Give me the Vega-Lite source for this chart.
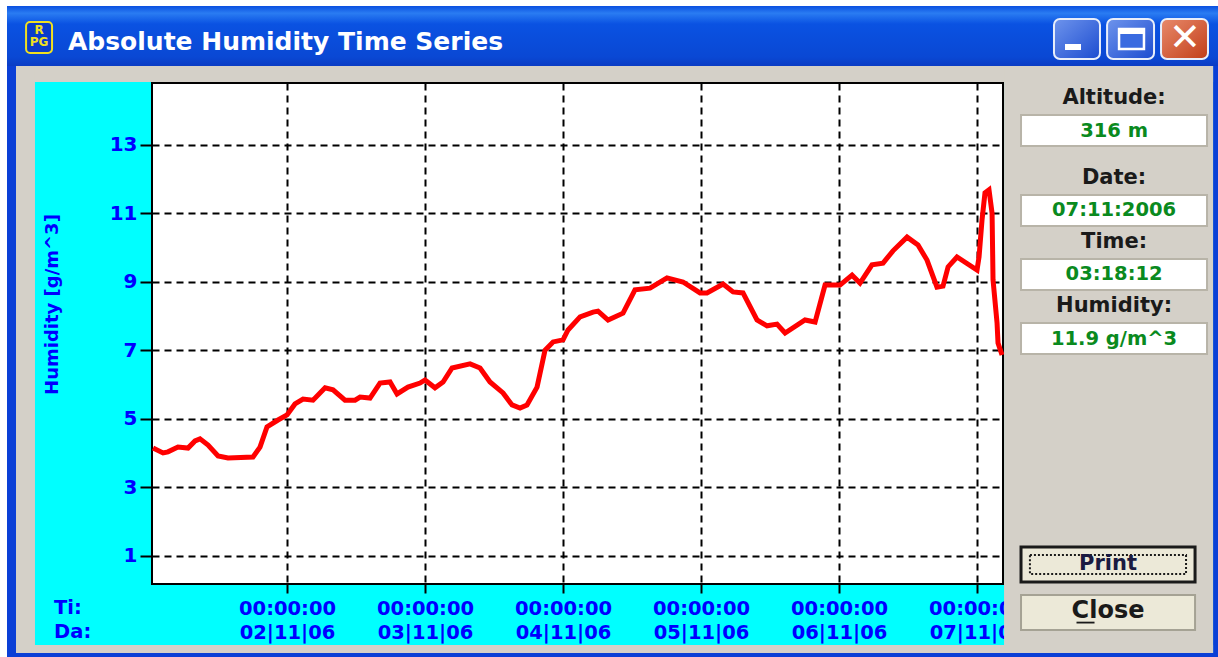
{"$schema":"https://vega.github.io/schema/vega-lite/v6.json","width":851,"height":501,"autosize":{"type":"none"},"padding":{"left":152,"top":83,"right":215,"bottom":73},"background":"#00FFFF","view":{"fill":"#FFFFFF","stroke":"#000000","strokeWidth":2},"title":{"text":"Absolute Humidity Time Series","anchor":"start","frame":"group","dx":-84,"offset":-55,"color":"#FFFFFF","font":"DejaVu Sans","fontWeight":"bold","fontSize":25,"zindex":1},"layer":[{"data":{"values":[{"date":"2006-11-01T00:42","humidity":4.15},{"date":"2006-11-01T02:26","humidity":4.01},{"date":"2006-11-01T03:18","humidity":4.04},{"date":"2006-11-01T05:02","humidity":4.18},{"date":"2006-11-01T06:47","humidity":4.15},{"date":"2006-11-01T08:00","humidity":4.36},{"date":"2006-11-01T08:52","humidity":4.42},{"date":"2006-11-01T10:16","humidity":4.24},{"date":"2006-11-01T12:00","humidity":3.92},{"date":"2006-11-01T13:44","humidity":3.86},{"date":"2006-11-01T18:05","humidity":3.89},{"date":"2006-11-01T19:18","humidity":4.18},{"date":"2006-11-01T20:31","humidity":4.77},{"date":"2006-11-01T22:26","humidity":4.97},{"date":"2006-11-02T00:00","humidity":5.12},{"date":"2006-11-02T01:23","humidity":5.44},{"date":"2006-11-02T02:47","humidity":5.58},{"date":"2006-11-02T04:31","humidity":5.55},{"date":"2006-11-02T06:37","humidity":5.91},{"date":"2006-11-02T08:00","humidity":5.85},{"date":"2006-11-02T10:05","humidity":5.55},{"date":"2006-11-02T11:50","humidity":5.55},{"date":"2006-11-02T12:42","humidity":5.64},{"date":"2006-11-02T14:26","humidity":5.61},{"date":"2006-11-02T16:10","humidity":6.05},{"date":"2006-11-02T17:55","humidity":6.08},{"date":"2006-11-02T19:08","humidity":5.73},{"date":"2006-11-02T21:02","humidity":5.93},{"date":"2006-11-02T23:08","humidity":6.05},{"date":"2006-11-03T00:00","humidity":6.14},{"date":"2006-11-03T01:44","humidity":5.91},{"date":"2006-11-03T03:08","humidity":6.08},{"date":"2006-11-03T04:42","humidity":6.49},{"date":"2006-11-03T07:50","humidity":6.61},{"date":"2006-11-03T09:34","humidity":6.49},{"date":"2006-11-03T11:18","humidity":6.08},{"date":"2006-11-03T13:34","humidity":5.76},{"date":"2006-11-03T15:08","humidity":5.41},{"date":"2006-11-03T16:31","humidity":5.32},{"date":"2006-11-03T17:44","humidity":5.41},{"date":"2006-11-03T19:29","humidity":5.93},{"date":"2006-11-03T20:52","humidity":7.01},{"date":"2006-11-03T22:16","humidity":7.25},{"date":"2006-11-04T00:00","humidity":7.31},{"date":"2006-11-04T00:52","humidity":7.6},{"date":"2006-11-04T02:58","humidity":7.98},{"date":"2006-11-04T05:13","humidity":8.12},{"date":"2006-11-04T06:05","humidity":8.15},{"date":"2006-11-04T07:50","humidity":7.89},{"date":"2006-11-04T10:26","humidity":8.09},{"date":"2006-11-04T12:31","humidity":8.77},{"date":"2006-11-04T15:08","humidity":8.82},{"date":"2006-11-04T18:05","humidity":9.12},{"date":"2006-11-04T20:52","humidity":9.0},{"date":"2006-11-04T23:50","humidity":8.68},{"date":"2006-11-05T01:02","humidity":8.68},{"date":"2006-11-05T03:50","humidity":8.94},{"date":"2006-11-05T05:34","humidity":8.71},{"date":"2006-11-05T07:18","humidity":8.68},{"date":"2006-11-05T09:44","humidity":7.89},{"date":"2006-11-05T11:29","humidity":7.72},{"date":"2006-11-05T13:13","humidity":7.77},{"date":"2006-11-05T14:37","humidity":7.51},{"date":"2006-11-05T18:05","humidity":7.89},{"date":"2006-11-05T19:50","humidity":7.83},{"date":"2006-11-05T21:34","humidity":8.91},{"date":"2006-11-06T00:10","humidity":8.91},{"date":"2006-11-06T02:16","humidity":9.2},{"date":"2006-11-06T03:39","humidity":8.97},{"date":"2006-11-06T05:44","humidity":9.5},{"date":"2006-11-06T07:39","humidity":9.55},{"date":"2006-11-06T09:23","humidity":9.91},{"date":"2006-11-06T11:50","humidity":10.31},{"date":"2006-11-06T13:44","humidity":10.08},{"date":"2006-11-06T15:18","humidity":9.64},{"date":"2006-11-06T17:02","humidity":8.85},{"date":"2006-11-06T18:05","humidity":8.88},{"date":"2006-11-06T18:58","humidity":9.44},{"date":"2006-11-06T20:31","humidity":9.73},{"date":"2006-11-07T00:00","humidity":9.35},{"date":"2006-11-07T00:21","humidity":9.73},{"date":"2006-11-07T00:52","humidity":10.81},{"date":"2006-11-07T01:23","humidity":11.6},{"date":"2006-11-07T02:05","humidity":11.69},{"date":"2006-11-07T02:37","humidity":11.01},{"date":"2006-11-07T02:47","humidity":9.06},{"date":"2006-11-07T03:29","humidity":7.8},{"date":"2006-11-07T03:39","humidity":7.22},{"date":"2006-11-07T04:21","humidity":6.87}]},"mark":{"type":"line","color":"#FF0000","strokeWidth":5,"interpolate":"linear"},"encoding":{"x":{"field":"date","type":"temporal","scale":{"domain":[{"year":2006,"month":11,"date":1,"hours":0,"minutes":31},{"year":2006,"month":11,"date":7,"hours":4,"minutes":31}]},"axis":{"title":null,"values":[{"year":2006,"month":11,"date":2},{"year":2006,"month":11,"date":3},{"year":2006,"month":11,"date":4},{"year":2006,"month":11,"date":5},{"year":2006,"month":11,"date":6},{"year":2006,"month":11,"date":7}],"labelExpr":"[timeFormat(datum.value,'%H:%M:%S'),timeFormat(datum.value,'%d|%m|%y')]","labelFont":"DejaVu Sans","labelFontWeight":"bold","labelFontSize":19.5,"labelColor":"#0000FF","labelLineHeight":24,"labelBaseline":"top","labelAngle":0,"labelOverlap":false,"labelBound":false,"labelFlush":false,"labelPadding":6,"tickColor":"#000000","tickWidth":2,"tickSize":9,"domain":false,"grid":true,"gridColor":"#000000","gridWidth":2,"gridDash":[7,5],"gridOpacity":1}},"y":{"field":"humidity","type":"quantitative","scale":{"domain":[0.182,14.81],"nice":false,"zero":false},"axis":{"title":"Humidity [g/m^3]","titleX":-100,"titleY":221,"titleAngle":-90,"titleAlign":"center","titleBaseline":"middle","titleColor":"#0000FF","titleFont":"DejaVu Sans","titleFontWeight":"bold","titleFontSize":18,"values":[1,3,5,7,9,11,13],"labelFont":"DejaVu Sans","labelFontWeight":"bold","labelFontSize":20,"labelColor":"#0000FF","labelPadding":3,"tickColor":"#000000","tickWidth":2,"tickSize":12,"domain":false,"grid":true,"gridColor":"#000000","gridWidth":2,"gridDash":[7,5],"gridOpacity":1}}}},
{"data":{"values":[{}]},"mark":{"type":"rect","fill":"#FFFFFF"},"encoding":{"x":{"datum":{"year":2006,"month":10,"date":30,"hours":22,"minutes":5},"type":"temporal"},"x2":{"datum":{"year":2006,"month":11,"date":8,"hours":17,"minutes":55}},"y":{"datum":17.234,"type":"quantitative"},"y2":{"datum":17.058}}},
{"data":{"values":[{}]},"mark":{"type":"rect","fill":"#FFFFFF"},"encoding":{"x":{"datum":{"year":2006,"month":10,"date":30,"hours":22,"minutes":5},"type":"temporal"},"x2":{"datum":{"year":2006,"month":10,"date":30,"hours":23,"minutes":18}},"y":{"datum":17.234,"type":"quantitative"},"y2":{"datum":-1.949}}},
{"data":{"values":[{}]},"mark":{"type":"rect","fill":"#0A3FD6"},"encoding":{"x":{"datum":{"year":2006,"month":10,"date":30,"hours":23,"minutes":18},"type":"temporal"},"x2":{"datum":{"year":2006,"month":10,"date":31,"hours":0,"minutes":52}},"y":{"datum":17.058,"type":"quantitative"},"y2":{"datum":-1.949}}},
{"data":{"values":[{}]},"mark":{"type":"rect","fill":"#0A3FD6"},"encoding":{"x":{"datum":{"year":2006,"month":11,"date":8,"hours":17,"minutes":3},"type":"temporal"},"x2":{"datum":{"year":2006,"month":11,"date":8,"hours":17,"minutes":55}},"y":{"datum":17.058,"type":"quantitative"},"y2":{"datum":-1.949}}},
{"data":{"values":[{}]},"mark":{"type":"rect","fill":"#0A3FD6"},"encoding":{"x":{"datum":{"year":2006,"month":10,"date":30,"hours":23,"minutes":18},"type":"temporal"},"x2":{"datum":{"year":2006,"month":11,"date":8,"hours":17,"minutes":55}},"y":{"datum":-1.832,"type":"quantitative"},"y2":{"datum":-1.949}}},
{"data":{"values":[{}]},"mark":{"type":"rect","fill":{"gradient":"linear","x1":0,"y1":0,"x2":0,"y2":1,"stops":[{"offset":0,"color":"#0A50E0"},{"offset":0.12,"color":"#2A7CF2"},{"offset":0.3,"color":"#0A52E2"},{"offset":0.85,"color":"#0A48D4"},{"offset":1,"color":"#0A3CC4"}]}},"encoding":{"x":{"datum":{"year":2006,"month":10,"date":30,"hours":23,"minutes":18},"type":"temporal"},"x2":{"datum":{"year":2006,"month":11,"date":8,"hours":17,"minutes":55}},"y":{"datum":17.058,"type":"quantitative"},"y2":{"datum":15.307}}},
{"data":{"values":[{}]},"mark":{"type":"rect","fill":"#D4D0C8"},"encoding":{"x":{"datum":{"year":2006,"month":10,"date":31,"hours":0,"minutes":52},"type":"temporal"},"x2":{"datum":{"year":2006,"month":11,"date":8,"hours":17,"minutes":3}},"y":{"datum":15.307,"type":"quantitative"},"y2":{"datum":14.839}}},
{"data":{"values":[{}]},"mark":{"type":"rect","fill":"#D4D0C8"},"encoding":{"x":{"datum":{"year":2006,"month":10,"date":31,"hours":0,"minutes":52},"type":"temporal"},"x2":{"datum":{"year":2006,"month":10,"date":31,"hours":4,"minutes":10}},"y":{"datum":15.307,"type":"quantitative"},"y2":{"datum":-1.832}}},
{"data":{"values":[{}]},"mark":{"type":"rect","fill":"#D4D0C8"},"encoding":{"x":{"datum":{"year":2006,"month":10,"date":31,"hours":0,"minutes":52},"type":"temporal"},"x2":{"datum":{"year":2006,"month":11,"date":8,"hours":17,"minutes":3}},"y":{"datum":-1.599,"type":"quantitative"},"y2":{"datum":-1.832}}},
{"data":{"values":[{}]},"mark":{"type":"rect","fill":"#D4D0C8"},"encoding":{"x":{"datum":{"year":2006,"month":11,"date":7,"hours":4,"minutes":42},"type":"temporal"},"x2":{"datum":{"year":2006,"month":11,"date":8,"hours":17,"minutes":3}},"y":{"datum":15.307,"type":"quantitative"},"y2":{"datum":-1.832}}},
{"data":{"values":[{}]},"mark":{"type":"rect","fill":"#0A3CCB","stroke":"#F0E020","strokeWidth":2,"cornerRadius":4},"encoding":{"x":{"datum":{"year":2006,"month":10,"date":31,"hours":2,"minutes":37},"type":"temporal"},"x2":{"datum":{"year":2006,"month":10,"date":31,"hours":7,"minutes":8}},"y":{"datum":16.591,"type":"quantitative"},"y2":{"datum":15.686}}},
{"data":{"values":[{"label":"R\nPG"}]},"mark":{"type":"text","color":"#F0E020","font":"DejaVu Sans","fontWeight":"bold","fontSize":12,"lineBreak":"\n","lineHeight":12,"align":"center","baseline":"middle","dy":-6},"encoding":{"x":{"datum":{"year":2006,"month":10,"date":31,"hours":4,"minutes":52},"type":"temporal"},"y":{"datum":16.182,"type":"quantitative"},"text":{"field":"label"}}},
{"data":{"values":[{}]},"mark":{"type":"rect","fill":{"gradient":"linear","x1":0,"y1":0,"x2":1,"y2":1,"stops":[{"offset":0,"color":"#6E94EC"},{"offset":1,"color":"#1C4CD0"}]},"stroke":"#E8EEFA","strokeWidth":2,"cornerRadius":6},"encoding":{"x":{"datum":{"year":2006,"month":11,"date":7,"hours":13,"minutes":23},"type":"temporal"},"x2":{"datum":{"year":2006,"month":11,"date":7,"hours":21,"minutes":23}},"y":{"datum":16.679,"type":"quantitative"},"y2":{"datum":15.511}}},
{"data":{"values":[{}]},"mark":{"type":"rect","fill":{"gradient":"linear","x1":0,"y1":0,"x2":1,"y2":1,"stops":[{"offset":0,"color":"#6E94EC"},{"offset":1,"color":"#1C4CD0"}]},"stroke":"#E8EEFA","strokeWidth":2,"cornerRadius":6},"encoding":{"x":{"datum":{"year":2006,"month":11,"date":7,"hours":22,"minutes":37},"type":"temporal"},"x2":{"datum":{"year":2006,"month":11,"date":8,"hours":6,"minutes":47}},"y":{"datum":16.679,"type":"quantitative"},"y2":{"datum":15.511}}},
{"data":{"values":[{}]},"mark":{"type":"rect","fill":{"gradient":"linear","x1":0,"y1":0,"x2":1,"y2":1,"stops":[{"offset":0,"color":"#E88A6C"},{"offset":1,"color":"#C23E18"}]},"stroke":"#E8EEFA","strokeWidth":2,"cornerRadius":6},"encoding":{"x":{"datum":{"year":2006,"month":11,"date":8,"hours":8,"minutes":0},"type":"temporal"},"x2":{"datum":{"year":2006,"month":11,"date":8,"hours":16,"minutes":10}},"y":{"datum":16.679,"type":"quantitative"},"y2":{"datum":15.511}}},
{"data":{"values":[{}]},"mark":{"type":"rect","fill":"#FFFFFF"},"encoding":{"x":{"datum":{"year":2006,"month":11,"date":7,"hours":15,"minutes":18},"type":"temporal"},"x2":{"datum":{"year":2006,"month":11,"date":7,"hours":18,"minutes":5}},"y":{"datum":15.949,"type":"quantitative"},"y2":{"datum":15.774}}},
{"data":{"values":[{}]},"mark":{"type":"rect","fill":"#3A6BE0","stroke":"#FFFFFF","strokeWidth":2.5},"encoding":{"x":{"datum":{"year":2006,"month":11,"date":8,"hours":0,"minutes":42},"type":"temporal"},"x2":{"datum":{"year":2006,"month":11,"date":8,"hours":5,"minutes":2}},"y":{"datum":16.387,"type":"quantitative"},"y2":{"datum":15.803}}},
{"data":{"values":[{}]},"mark":{"type":"rect","fill":"#FFFFFF"},"encoding":{"x":{"datum":{"year":2006,"month":11,"date":8,"hours":0,"minutes":42},"type":"temporal"},"x2":{"datum":{"year":2006,"month":11,"date":8,"hours":5,"minutes":2}},"y":{"datum":16.387,"type":"quantitative"},"y2":{"datum":16.241}}},
{"data":{"values":[{"label":"✕"}]},"mark":{"type":"text","color":"#FFFFFF","font":"DejaVu Sans","fontWeight":"bold","fontSize":38,"align":"center","baseline":"middle"},"encoding":{"x":{"datum":{"year":2006,"month":11,"date":8,"hours":12,"minutes":10},"type":"temporal"},"y":{"datum":16.095,"type":"quantitative"},"text":{"field":"label"}}},
{"data":{"values":[{"label":"Ti:\nDa:"}]},"mark":{"type":"text","color":"#0000FF","font":"DejaVu Sans","fontWeight":"bold","fontSize":19.5,"lineBreak":"\n","lineHeight":24,"align":"left","baseline":"middle"},"encoding":{"x":{"datum":{"year":2006,"month":10,"date":31,"hours":7,"minutes":29},"type":"temporal"},"y":{"datum":-0.518,"type":"quantitative"},"text":{"field":"label"}}},
{"data":{"values":[{}]},"mark":{"type":"rect","fill":"#FFFFFF","stroke":"#B8B4A8","strokeWidth":2},"encoding":{"x":{"datum":{"year":2006,"month":11,"date":7,"hours":7,"minutes":39},"type":"temporal"},"x2":{"datum":{"year":2006,"month":11,"date":8,"hours":16,"minutes":0}},"y":{"datum":13.876,"type":"quantitative"},"y2":{"datum":12.971}}},
{"data":{"values":[{}]},"mark":{"type":"rect","fill":"#FFFFFF","stroke":"#B8B4A8","strokeWidth":2},"encoding":{"x":{"datum":{"year":2006,"month":11,"date":7,"hours":7,"minutes":39},"type":"temporal"},"x2":{"datum":{"year":2006,"month":11,"date":8,"hours":16,"minutes":0}},"y":{"datum":11.54,"type":"quantitative"},"y2":{"datum":10.635}}},
{"data":{"values":[{}]},"mark":{"type":"rect","fill":"#FFFFFF","stroke":"#B8B4A8","strokeWidth":2},"encoding":{"x":{"datum":{"year":2006,"month":11,"date":7,"hours":7,"minutes":39},"type":"temporal"},"x2":{"datum":{"year":2006,"month":11,"date":8,"hours":16,"minutes":0}},"y":{"datum":9.672,"type":"quantitative"},"y2":{"datum":8.766}}},
{"data":{"values":[{}]},"mark":{"type":"rect","fill":"#FFFFFF","stroke":"#B8B4A8","strokeWidth":2},"encoding":{"x":{"datum":{"year":2006,"month":11,"date":7,"hours":7,"minutes":39},"type":"temporal"},"x2":{"datum":{"year":2006,"month":11,"date":8,"hours":16,"minutes":0}},"y":{"datum":7.803,"type":"quantitative"},"y2":{"datum":6.898}}},
{"data":{"values":[{"label":"Altitude:"}]},"mark":{"type":"text","color":"#1A1A1A","font":"DejaVu Sans","fontWeight":"bold","fontSize":21,"align":"center","baseline":"middle","dy":1},"encoding":{"x":{"datum":{"year":2006,"month":11,"date":7,"hours":23,"minutes":50},"type":"temporal"},"y":{"datum":14.401,"type":"quantitative"},"text":{"field":"label"}}},
{"data":{"values":[{"label":"Date:"}]},"mark":{"type":"text","color":"#1A1A1A","font":"DejaVu Sans","fontWeight":"bold","fontSize":21,"align":"center","baseline":"middle","dy":1},"encoding":{"x":{"datum":{"year":2006,"month":11,"date":7,"hours":23,"minutes":50},"type":"temporal"},"y":{"datum":12.066,"type":"quantitative"},"text":{"field":"label"}}},
{"data":{"values":[{"label":"Time:"}]},"mark":{"type":"text","color":"#1A1A1A","font":"DejaVu Sans","fontWeight":"bold","fontSize":21,"align":"center","baseline":"middle","dy":1},"encoding":{"x":{"datum":{"year":2006,"month":11,"date":7,"hours":23,"minutes":50},"type":"temporal"},"y":{"datum":10.197,"type":"quantitative"},"text":{"field":"label"}}},
{"data":{"values":[{"label":"Humidity:"}]},"mark":{"type":"text","color":"#1A1A1A","font":"DejaVu Sans","fontWeight":"bold","fontSize":21,"align":"center","baseline":"middle","dy":1},"encoding":{"x":{"datum":{"year":2006,"month":11,"date":7,"hours":23,"minutes":50},"type":"temporal"},"y":{"datum":8.328,"type":"quantitative"},"text":{"field":"label"}}},
{"data":{"values":[{"label":"316 m"}]},"mark":{"type":"text","color":"#0A8A1E","font":"DejaVu Sans","fontWeight":"bold","fontSize":19.5,"align":"center","baseline":"middle"},"encoding":{"x":{"datum":{"year":2006,"month":11,"date":7,"hours":23,"minutes":50},"type":"temporal"},"y":{"datum":13.423,"type":"quantitative"},"text":{"field":"label"}}},
{"data":{"values":[{"label":"07:11:2006"}]},"mark":{"type":"text","color":"#0A8A1E","font":"DejaVu Sans","fontWeight":"bold","fontSize":19.5,"align":"center","baseline":"middle"},"encoding":{"x":{"datum":{"year":2006,"month":11,"date":7,"hours":23,"minutes":50},"type":"temporal"},"y":{"datum":11.088,"type":"quantitative"},"text":{"field":"label"}}},
{"data":{"values":[{"label":"03:18:12"}]},"mark":{"type":"text","color":"#0A8A1E","font":"DejaVu Sans","fontWeight":"bold","fontSize":19.5,"align":"center","baseline":"middle"},"encoding":{"x":{"datum":{"year":2006,"month":11,"date":7,"hours":23,"minutes":50},"type":"temporal"},"y":{"datum":9.219,"type":"quantitative"},"text":{"field":"label"}}},
{"data":{"values":[{"label":"11.9 g/m^3"}]},"mark":{"type":"text","color":"#0A8A1E","font":"DejaVu Sans","fontWeight":"bold","fontSize":19.5,"align":"center","baseline":"middle"},"encoding":{"x":{"datum":{"year":2006,"month":11,"date":7,"hours":23,"minutes":50},"type":"temporal"},"y":{"datum":7.35,"type":"quantitative"},"text":{"field":"label"}}},
{"data":{"values":[{}]},"mark":{"type":"rect","fill":"#ECE9D8","stroke":"#1A1A1A","strokeWidth":3},"encoding":{"x":{"datum":{"year":2006,"month":11,"date":7,"hours":7,"minutes":39},"type":"temporal"},"x2":{"datum":{"year":2006,"month":11,"date":8,"hours":13,"minutes":55}},"y":{"datum":1.263,"type":"quantitative"},"y2":{"datum":0.241}}},
{"data":{"values":[{}]},"mark":{"type":"rect","fill":"#ECE9D8","stroke":"#1A1A1A","strokeWidth":2,"strokeDash":[2,2]},"encoding":{"x":{"datum":{"year":2006,"month":11,"date":7,"hours":9,"minutes":12},"type":"temporal"},"x2":{"datum":{"year":2006,"month":11,"date":8,"hours":12,"minutes":21}},"y":{"datum":1.029,"type":"quantitative"},"y2":{"datum":0.474}}},
{"data":{"values":[{"label":"Print"}]},"mark":{"type":"text","color":"#1A1A40","font":"DejaVu Sans","fontWeight":"bold","fontSize":21,"align":"center","baseline":"middle"},"encoding":{"x":{"datum":{"year":2006,"month":11,"date":7,"hours":22,"minutes":47},"type":"temporal"},"y":{"datum":0.766,"type":"quantitative"},"text":{"field":"label"}}},
{"data":{"values":[{}]},"mark":{"type":"rect","fill":"#ECE9D8","stroke":"#A5A294","strokeWidth":2},"encoding":{"x":{"datum":{"year":2006,"month":11,"date":7,"hours":7,"minutes":39},"type":"temporal"},"x2":{"datum":{"year":2006,"month":11,"date":8,"hours":13,"minutes":55}},"y":{"datum":-0.139,"type":"quantitative"},"y2":{"datum":-1.161}}},
{"data":{"values":[{"label":"Close"}]},"mark":{"type":"text","color":"#1A1A1A","font":"DejaVu Sans","fontWeight":"bold","fontSize":24,"align":"center","baseline":"middle"},"encoding":{"x":{"datum":{"year":2006,"month":11,"date":7,"hours":22,"minutes":47},"type":"temporal"},"y":{"datum":-0.606,"type":"quantitative"},"text":{"field":"label"}}},
{"data":{"values":[{}]},"mark":{"type":"rect","fill":"#1A1A1A"},"encoding":{"x":{"datum":{"year":2006,"month":11,"date":7,"hours":17,"minutes":18},"type":"temporal"},"x2":{"datum":{"year":2006,"month":11,"date":7,"hours":20,"minutes":26}},"y":{"datum":-0.918,"type":"quantitative"},"y2":{"datum":-0.971}}}
]}
